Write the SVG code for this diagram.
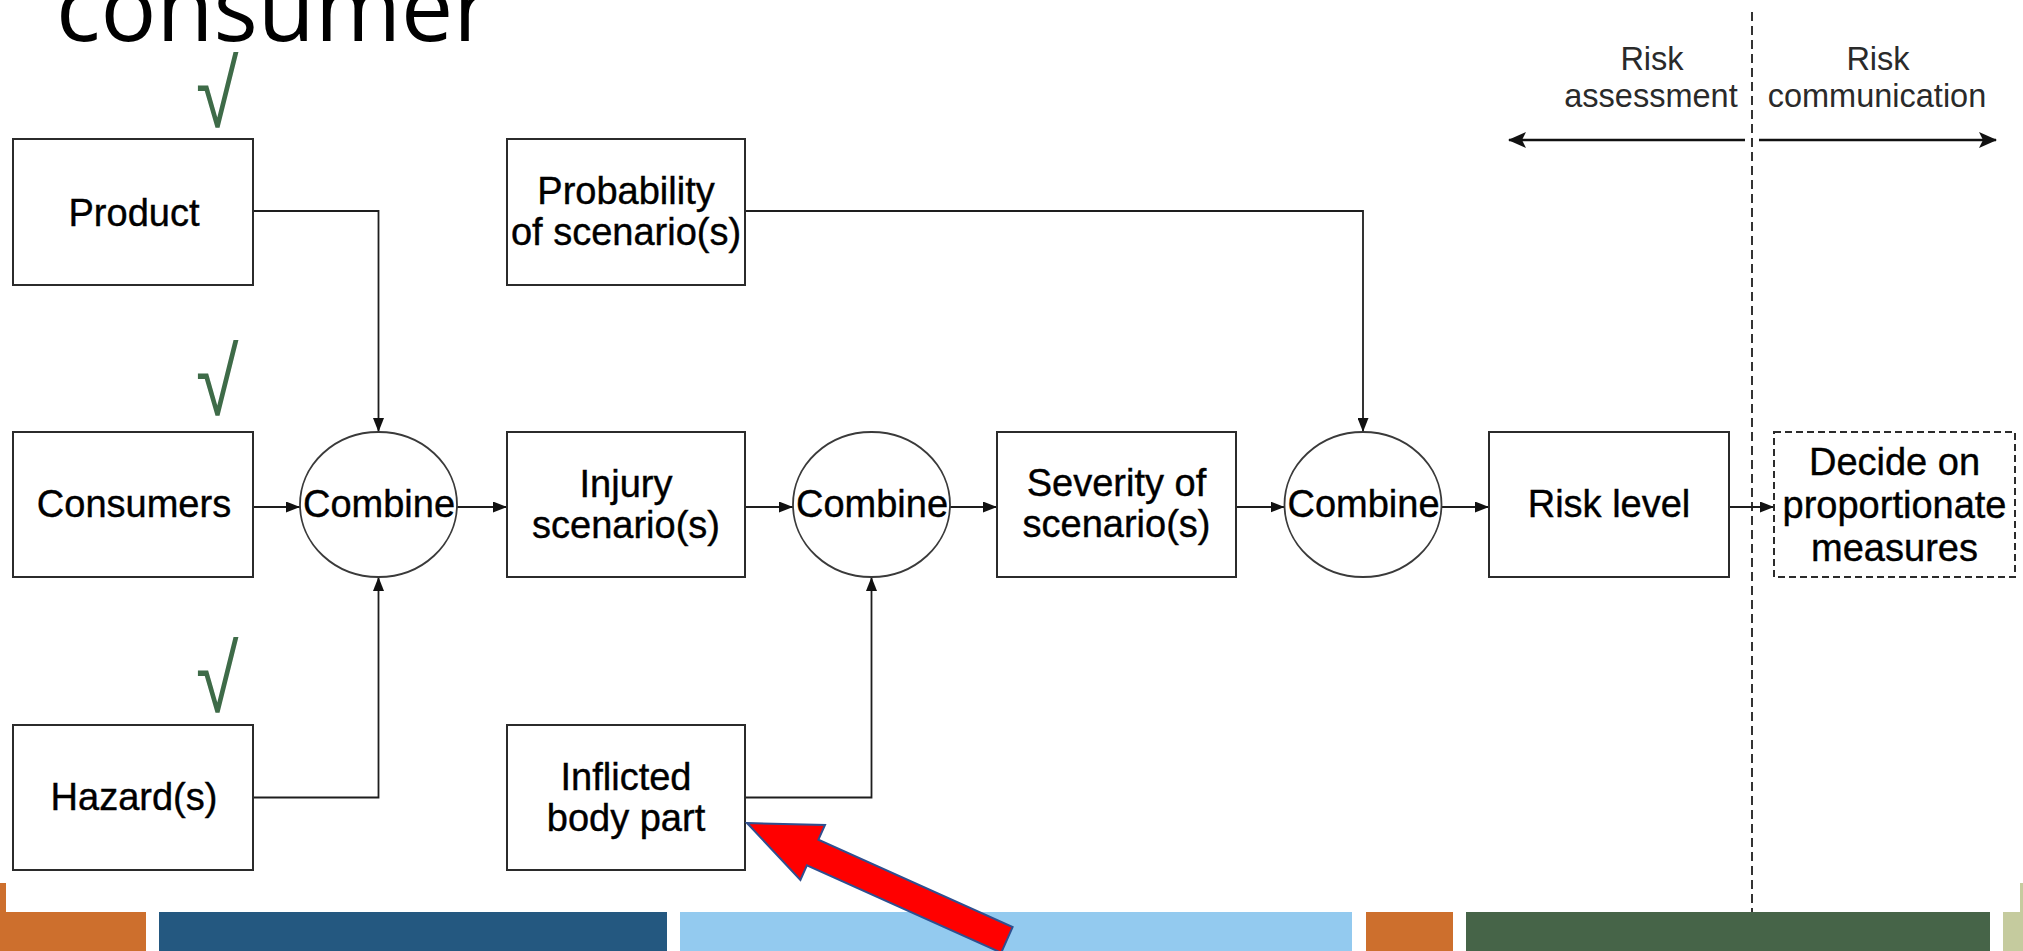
<svg xmlns="http://www.w3.org/2000/svg" width="2023" height="951" viewBox="0 0 2023 951">
  <style>
    .box { fill: #ffffff; stroke: #2b2b2b; stroke-width: 2; }
    .dashbox { fill: #ffffff; stroke: #2b2b2b; stroke-width: 2; stroke-dasharray: 7 4; }
    .oval { fill: #ffffff; stroke: #3a3a3a; stroke-width: 1.8; }
    .lbl { font-family: "Liberation Sans", Arial, sans-serif; font-size: 38px; fill: #000000; stroke: #000000; stroke-width: 0.4; text-anchor: middle; }
    .phase { font-family: "Liberation Sans", Arial, sans-serif; font-size: 32.5px; fill: #2a2a2a; text-anchor: middle; }
    .tick { font-family: "Liberation Sans", Arial, sans-serif; font-size: 88px; fill: #3e6b48; }
    .title { font-family: "Open Sans", "DejaVu Sans", sans-serif; font-size: 93px; fill: #000000; }
    .conn { fill: none; stroke: #1e1e1e; stroke-width: 1.8; marker-end: url(#arr); }
    .span { fill: none; stroke: #111111; stroke-width: 2.6; }
  </style>
  <defs>
    <marker id="arr" markerUnits="userSpaceOnUse" markerWidth="14" markerHeight="11" refX="14" refY="5.5" orient="auto">
      <path d="M0,0 L14,5.5 L0,11 z" fill="#111111"/>
    </marker>
    <marker id="bigarr" markerUnits="userSpaceOnUse" markerWidth="18" markerHeight="16" refX="17" refY="8" orient="auto">
      <path d="M0,0 L18,8 L0,16 L4,8 z" fill="#111111"/>
    </marker>
  </defs>

  <rect width="2023" height="951" fill="#ffffff"/>

  <!-- slide title (lower part only in frame) -->
  <text class="title" x="56" y="41">consumer</text>

  <!-- phase divider and labels -->
  <g id="phases">
    <line x1="1752" y1="12" x2="1752" y2="912" stroke="#333333" stroke-width="2" stroke-dasharray="9 5"/>
    <text class="phase" x="1652" y="70">Risk</text>
    <text class="phase" x="1651" y="107">assessment</text>
    <text class="phase" x="1878" y="70">Risk</text>
    <text class="phase" x="1877" y="107">communication</text>
    <path class="span" d="M1745,140 H1509" marker-end="url(#bigarr)"/>
    <path class="span" d="M1759,140 H1996" marker-end="url(#bigarr)"/>
  </g>

  <!-- check marks -->
  <g id="ticks">
    <g transform="translate(196,127) scale(0.88,1.08)"><text class="tick">√</text></g>
    <g transform="translate(196,415) scale(0.88,1.08)"><text class="tick">√</text></g>
    <g transform="translate(196,712) scale(0.88,1.08)"><text class="tick">√</text></g>
  </g>

  <!-- connectors -->
  <g id="connectors">
    <path class="conn" d="M253,211 H378.5 V432"/>
    <path class="conn" d="M253,507 H300"/>
    <path class="conn" d="M253,797.5 H378.5 V577"/>
    <path class="conn" d="M457,507 H507"/>
    <path class="conn" d="M745,507 H793"/>
    <path class="conn" d="M745,797.5 H871.5 V577"/>
    <path class="conn" d="M950,507 H997"/>
    <path class="conn" d="M745,211 H1363 V432"/>
    <path class="conn" d="M1236,507 H1284.5"/>
    <path class="conn" d="M1441.5,507 H1489"/>
    <path class="conn" d="M1729,507 H1774"/>
  </g>

  <g id="product">
    <rect class="box" x="13" y="139" width="240" height="146"/>
    <text class="lbl" x="134" y="226">Product</text>
  </g>
  <g id="probability">
    <rect class="box" x="507" y="139" width="238" height="146"/>
    <text class="lbl" x="626" y="204">Probability</text>
    <text class="lbl" x="626" y="245">of scenario(s)</text>
  </g>
  <g id="consumers">
    <rect class="box" x="13" y="432" width="240" height="145"/>
    <text class="lbl" x="134" y="517">Consumers</text>
  </g>
  <g id="combine-1">
    <ellipse class="oval" cx="378.5" cy="504.5" rx="78.5" ry="72.5"/>
    <text class="lbl" x="379" y="517">Combine</text>
  </g>
  <g id="injury">
    <rect class="box" x="507" y="432" width="238" height="145"/>
    <text class="lbl" x="626" y="497">Injury</text>
    <text class="lbl" x="626" y="538">scenario(s)</text>
  </g>
  <g id="combine-2">
    <ellipse class="oval" cx="871.5" cy="504.5" rx="78.5" ry="72.5"/>
    <text class="lbl" x="872" y="517">Combine</text>
  </g>
  <g id="severity">
    <rect class="box" x="997" y="432" width="239" height="145"/>
    <text class="lbl" x="1116.5" y="496">Severity of</text>
    <text class="lbl" x="1116.5" y="537">scenario(s)</text>
  </g>
  <g id="combine-3">
    <ellipse class="oval" cx="1363" cy="504.5" rx="78.5" ry="72.5"/>
    <text class="lbl" x="1363.5" y="517">Combine</text>
  </g>
  <g id="risk-level">
    <rect class="box" x="1489" y="432" width="240" height="145"/>
    <text class="lbl" x="1609" y="517">Risk level</text>
  </g>
  <g id="decide">
    <rect class="dashbox" x="1774" y="432" width="241" height="145"/>
    <text class="lbl" x="1894.5" y="475">Decide on</text>
    <text class="lbl" x="1894.5" y="518">proportionate</text>
    <text class="lbl" x="1894.5" y="561">measures</text>
  </g>
  <g id="hazards">
    <rect class="box" x="13" y="725" width="240" height="145"/>
    <text class="lbl" x="134" y="810">Hazard(s)</text>
  </g>
  <g id="inflicted">
    <rect class="box" x="507" y="725" width="238" height="145"/>
    <text class="lbl" x="626" y="790">Inflicted</text>
    <text class="lbl" x="626" y="831">body part</text>
  </g>

  <!-- footer colour bars -->
  <g id="footer">
    <rect x="0" y="883" width="6" height="30" fill="#cd6f2d"/>
    <rect x="0" y="912" width="146" height="39" fill="#cd6f2d"/>
    <rect x="159" y="912" width="508" height="39" fill="#245880"/>
    <rect x="680" y="912" width="672" height="39" fill="#93caef"/>
    <rect x="1366" y="912" width="87" height="39" fill="#cd6f2d"/>
    <rect x="1466" y="912" width="524" height="39" fill="#466448"/>
    <rect x="2003" y="912" width="20" height="39" fill="#c5cb9e"/>
    <rect x="2020" y="883" width="3" height="30" fill="#c5cb9e"/>
  </g>

  <!-- red pointer toward the inflicted body part box -->
  <polygon points="747,823 825,825 818.4,839.7 1012.6,927.1 1001.2,952.7 806.9,865.3 800.4,880" fill="#ff0000" stroke="#2f4f8f" stroke-width="2" stroke-linejoin="miter"/>
</svg>
